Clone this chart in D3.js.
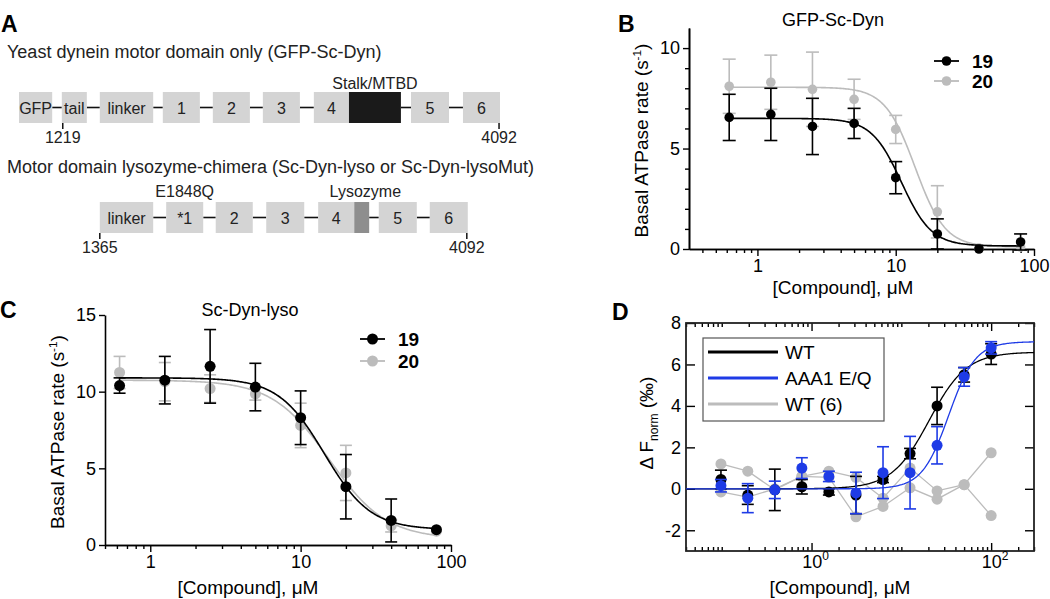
<!DOCTYPE html>
<html>
<head>
<meta charset="utf-8">
<script src="https://cdn.jsdelivr.net/npm/d3@7"></script>
<style>
  body { margin: 0; background: #fff; }
  svg { font-family: "Liberation Sans", Arial, Helvetica, sans-serif; }
</style>
</head>
<body>
<svg id="fig" width="1050" height="599"></svg>
<script>
// ---------- panel A: domain schematic (schematic units 0-100) ----------
const row1Labels = ["GFP", "tail", "linker", "1", "2", "3", "4", "", "5", "6"];
const row1Kinds = ["box", "box", "box", "box", "box", "box", "box", "stalk", "box", "box"];
const row1Start = [0, 8.9, 16.8, 29.9, 40.3, 50.7, 61.3, 68.6, 81.5, 92.3];
const row1End = [6.9, 14.1, 27.9, 37.6, 48.0, 58.4, 68.6, 79.4, 89.4, 100];
const row1Marks = [{ pos: 9.1, label: "1219" }, { pos: 99.8, label: "4092" }];

const row2Labels = ["linker", "*1", "2", "3", "4", "", "5", "6"];
const row2Kinds = ["box", "box", "box", "box", "box", "lyso", "box", "box"];
const row2Start = [16.8, 30.6, 40.9, 51.4, 62.2, 69.7, 74.8, 85.4];
const row2End = [27.9, 38.3, 48.6, 59.3, 69.7, 72.8, 82.7, 93.3];
const row2Marks = [{ pos: 16.8, label: "1365" }, { pos: 93.1, label: "4092" }];

// ---------- panels B, C: ATPase vs compound ----------
const doses = [0.625, 1.25, 2.5, 5, 10, 20, 40, 80];

const bRate19 = [6.55, 6.7, 6.1, 6.25, 3.55, 0.75, 0.0, 0.35];
const bErr19 = [1.15, 1.3, 1.4, 0.75, 0.8, 0.75, 0, 0.4];
const bRate20 = [8.1, 8.3, 7.95, 7.45, 5.95, 1.85, 0.05, 0.1];
const bErr20 = [1.35, 1.35, 1.85, 1.0, 0.7, 1.3, 0, 0];
// fit: [low-dose plateau, high-dose plateau, IC50, hill]
const bFit19 = [6.5, 0.15, 11, 4];
const bFit20 = [8.05, 0.1, 13.8, 4];

const cRate19 = [10.4, 10.75, 11.65, 10.3, 8.3, 3.8, 1.6, 1.0];
const cErr19 = [0.5, 1.55, 2.4, 1.55, 1.75, 2.1, 1.4, 0];
const cRate20 = [11.25, 10.65, 10.2, 9.85, 7.8, 4.7, 1.25, 0.9];
const cErr20 = [1.05, 1.25, 0.9, 0.4, 1.45, 1.8, 0.4, 0];
const cFit19 = [10.9, 1.0, 14.4, 2.83];
const cFit20 = [10.75, 0.4, 15.5, 2.3];

// ---------- panel D: MST ----------
const dDoses = [0.098, 0.195, 0.39, 0.78, 1.56, 3.125, 6.25, 12.5, 25, 50, 100];
const dWT = [0.45, -0.3, -0.05, 0.1, -0.15, -0.3, 0.45, 1.7, 4.0, 5.5, 6.5];
const dWTErr = [0.45, 0.45, 1.0, 0.35, 0.15, 0.9, 0.15, 0.25, 0.9, 0.35, 0.5];
const dEQ = [0.15, -0.45, -0.05, 1.0, 0.6, -0.2, 0.78, 0.78, 2.1, 5.4, 6.8];
const dEQErr = [0.3, 0.7, 0.42, 0.5, 0.25, 1.0, 1.25, 1.75, 0.9, 0.45, 0.3];
const dWT6a = [1.2, 0.85, -0.05, 0.6, 0.85, 0.55, -0.45, 1.0, -0.1, 0.2, 1.74];
const dWT6b = [-0.15, -0.4, 0.0, 0.6, 0.55, -1.35, -0.85, 0.05, -0.5, 0.2, -1.29];
const dFitWT = [0, 6.6, 20.4, 2.09];
const dFitEQ = [0, 7.1, 33.7, 2.92];
const dLegend = ["WT", "AAA1 E/Q", "WT (6)"];

const BLACK = "#000";
const GRAY = "#bcbcbc";
const BLUE = "#1e3be6";
const FONT = '"Liberation Sans", Arial, Helvetica, sans-serif';

const svg = d3.select("#fig");

function fitFn(p) {
  return (x) => p[1] + (p[0] - p[1]) / (1 + Math.pow(x / p[2], p[3]));
}

// sample the fitted dose-response curve across [lo, hi]
function fitCurve(p, lo, hi) {
  const f = fitFn(p);
  return d3.range(0, 301).map((i) => {
    const xv = Math.pow(10, Math.log10(lo) + (i / 300) * (Math.log10(hi) - Math.log10(lo)));
    return [xv, f(xv)];
  });
}

function styleAxis(sel, size) {
  sel.attr("font-family", FONT).attr("font-size", size);
  sel.selectAll(".domain").attr("stroke-width", 1.6);
  sel.selectAll(".tick line").attr("stroke-width", 1.4);
  return sel;
}

function panelLetter(t, x, y) {
  svg.append("text").attr("x", x).attr("y", y)
    .attr("font-size", 23).attr("font-weight", "bold").text(t);
}

// ================= Panel A =================
function drawRow(labels, kinds, starts, ends, marks, top) {
  const a = d3.scaleLinear().domain([0, 100]).range([19, 500]);
  const h = 31;
  const mid = top + h / 2;
  const g = svg.append("g");
  const segs = labels.map((l, i) => ({ label: l, kind: kinds[i], s: starts[i], e: ends[i] }));

  // connectors
  for (let i = 0; i < segs.length - 1; i++) {
    if (segs[i + 1].s - segs[i].e > 0.5) {
      g.append("line")
        .attr("x1", a(segs[i].e)).attr("x2", a(segs[i + 1].s))
        .attr("y1", mid).attr("y2", mid)
        .attr("stroke", "#111").attr("stroke-width", 1.6);
    }
  }
  const fill = { box: "#d4d4d4", stalk: "#1a1a1a", lyso: "#8e8e8e" };
  g.selectAll("rect").data(segs).join("rect")
    .attr("x", (d) => a(d.s)).attr("y", top)
    .attr("width", (d) => a(d.e) - a(d.s)).attr("height", h)
    .attr("fill", (d) => fill[d.kind]);
  g.selectAll("text.lab").data(segs.filter((d) => d.label)).join("text")
    .attr("class", "lab")
    .attr("x", (d) => (a(d.s) + a(d.e)) / 2).attr("y", mid + 6)
    .attr("text-anchor", "middle").attr("font-size", 16).attr("fill", "#222")
    .text((d) => d.label);
  marks.forEach((m) => {
    g.append("line").attr("x1", a(m.pos)).attr("x2", a(m.pos))
      .attr("y1", top + h).attr("y2", top + h + 6)
      .attr("stroke", "#111").attr("stroke-width", 1.5);
    g.append("text").attr("x", a(m.pos)).attr("y", top + h + 20)
      .attr("text-anchor", "middle").attr("font-size", 16).attr("fill", "#222")
      .text(m.label);
  });
  return a;
}

panelLetter("A", 1, 32);
svg.append("text").attr("x", 7).attr("y", 58).attr("font-size", 18).attr("fill", "#222")
  .text("Yeast dynein motor domain only (GFP-Sc-Dyn)");
const a1 = drawRow(row1Labels, row1Kinds, row1Start, row1End, row1Marks, 92);
svg.append("text").attr("x", (a1(68.6) + a1(79.4)) / 2).attr("y", 89)
  .attr("text-anchor", "middle").attr("font-size", 16).attr("fill", "#222").text("Stalk/MTBD");

svg.append("text").attr("x", 7).attr("y", 173).attr("font-size", 18).attr("fill", "#222")
  .text("Motor domain lysozyme-chimera (Sc-Dyn-lyso or Sc-Dyn-lysoMut)");
const a2 = drawRow(row2Labels, row2Kinds, row2Start, row2End, row2Marks, 202);
svg.append("text").attr("x", (a2(30.6) + a2(38.3)) / 2).attr("y", 197)
  .attr("text-anchor", "middle").attr("font-size", 16).attr("fill", "#222").text("E1848Q");
svg.append("text").attr("x", a2(72.0)).attr("y", 197)
  .attr("text-anchor", "middle").attr("font-size", 16).attr("fill", "#222").text("Lysozyme");

// ================= dose panels B, C =================
function drawPoints(g, x, y, xs, ys, es, color, r, cap) {
  const pts = xs.map((d, i) => ({ x: d, y: ys[i], e: es[i] }));
  const eb = g.append("g").attr("stroke", color).attr("stroke-width", 1.6).attr("fill", "none");
  pts.filter((p) => p.e > 0).forEach((p) => {
    const cx = x(p.x);
    eb.append("line").attr("x1", cx).attr("x2", cx).attr("y1", y(p.y + p.e)).attr("y2", y(p.y - p.e));
    [p.y + p.e, p.y - p.e].forEach((v) => {
      eb.append("line").attr("x1", cx - cap).attr("x2", cx + cap).attr("y1", y(v)).attr("y2", y(v));
    });
  });
  g.append("g").selectAll("circle").data(pts).join("circle")
    .attr("cx", (d) => x(d.x)).attr("cy", (d) => y(d.y)).attr("r", r).attr("fill", color);
}

function drawLine(g, x, y, pts, color, w) {
  g.append("path").datum(pts)
    .attr("d", d3.line().x((d) => x(d[0])).y((d) => y(d[1])))
    .attr("fill", "none").attr("stroke", color).attr("stroke-width", w);
}

function yLabel(cx, cy, size) {
  const t = svg.append("text").attr("transform", `translate(${cx},${cy}) rotate(-90)`)
    .attr("text-anchor", "middle").attr("font-size", size);
  t.append("tspan").text("Basal ATPase rate (s");
  t.append("tspan").attr("font-size", size * 0.62).attr("dy", -7).text("-1");
  t.append("tspan").attr("dy", 7).text(")");
}

function dosePanel(o) {
  const g = svg.append("g");
  const x = d3.scaleLog().domain(o.xDomain).range([o.left, o.right]);
  const y = d3.scaleLinear().domain(o.yDomain).range([o.bottom, o.top]);
  const all = x.ticks();
  const majors = all.filter((t) => Math.abs(Math.log10(t) - Math.round(Math.log10(t))) < 1e-9);
  const minors = all.filter((t) => !majors.includes(t));

  styleAxis(g.append("g").attr("transform", `translate(0,${o.bottom})`)
    .call(d3.axisBottom(x).tickValues(minors).tickSize(4).tickSizeOuter(0).tickFormat("")), 18);
  styleAxis(g.append("g").attr("transform", `translate(0,${o.bottom})`)
    .call(d3.axisBottom(x).tickValues(majors).tickSize(7).tickSizeOuter(0).tickPadding(3)
      .tickFormat(d3.format("~g"))), 18);

  if (o.yMinor.length) {
    styleAxis(g.append("g").attr("transform", `translate(${o.left},0)`)
      .call(d3.axisLeft(y).tickValues(o.yMinor).tickSize(4).tickSizeOuter(0).tickFormat("")), 18);
  }
  styleAxis(g.append("g").attr("transform", `translate(${o.left},0)`)
    .call(d3.axisLeft(y).tickValues(o.yMajor).tickSize(6).tickSizeOuter(0).tickPadding(3)
      .tickFormat(d3.format("d"))), 18);

  // series: gray (20) under black (19)
  const lo = doses[0], hi = doses[doses.length - 1];
  drawLine(g, x, y, fitCurve(o.fit20, lo, hi), GRAY, 1.6);
  drawPoints(g, x, y, doses, o.rate20, o.err20, GRAY, o.r, o.cap);
  drawLine(g, x, y, fitCurve(o.fit19, lo, hi), BLACK, 1.6);
  drawPoints(g, x, y, doses, o.rate19, o.err19, BLACK, o.r, o.cap);

  // title
  svg.append("text").attr("x", o.titleX).attr("y", o.titleY)
    .attr("text-anchor", "middle").attr("font-size", 18).text(o.title);

  // legend
  [["19", BLACK], ["20", GRAY]].forEach(([lab, col], i) => {
    const ly = o.legY + i * o.legGap;
    svg.append("line").attr("x1", o.legX).attr("x2", o.legX + 25).attr("y1", ly).attr("y2", ly)
      .attr("stroke", col).attr("stroke-width", 1.8);
    svg.append("circle").attr("cx", o.legX + 12.5).attr("cy", ly).attr("r", o.r).attr("fill", col);
    svg.append("text").attr("x", o.legX + 38).attr("y", ly + 7)
      .attr("font-size", 19).attr("font-weight", "bold").text(lab);
  });

  // axis titles
  svg.append("text").attr("x", o.xLabelX).attr("y", o.xLabelY)
    .attr("text-anchor", "middle").attr("font-size", 19).text("[Compound], μM");
  yLabel(o.yLabelX, (o.top + o.bottom) / 2 + 2, 19);
}

panelLetter("B", 618, 32);
dosePanel({
  xDomain: [0.32, 100], left: 689, right: 1034,
  yDomain: [0, 11], top: 28, bottom: 249,
  yMajor: [0, 5, 10], yMinor: [1, 2, 3, 4, 6, 7, 8, 9],
  rate19: bRate19, err19: bErr19, rate20: bRate20, err20: bErr20,
  fit19: bFit19, fit20: bFit20, r: 4.8, cap: 6.5,
  title: "GFP-Sc-Dyn", titleX: 833, titleY: 26,
  legX: 934, legY: 61, legGap: 20,
  xLabelX: 843, xLabelY: 294, yLabelX: 648,
});

panelLetter("C", 0, 318);
dosePanel({
  xDomain: [0.5, 100], left: 105, right: 451,
  yDomain: [0, 15], top: 315, bottom: 545,
  yMajor: [0, 5, 10, 15], yMinor: [],
  rate19: cRate19, err19: cErr19, rate20: cRate20, err20: cErr20,
  fit19: cFit19, fit20: cFit20, r: 5.5, cap: 6,
  title: "Sc-Dyn-lyso", titleX: 250, titleY: 316,
  legX: 360, legY: 339, legGap: 22,
  xLabelX: 248, xLabelY: 594, yLabelX: 64,
});

// ================= Panel D =================
panelLetter("D", 612, 320);
(function () {
  const L = 686, R = 1034, T = 323, B = 551;
  const g = svg.append("g");
  const x = d3.scaleLog().domain([0.04, 300]).range([L, R]);
  const y = d3.scaleLinear().domain([-3, 8]).range([B, T]);
  const all = x.ticks();
  const majors = [1, 100];
  const minors = all.filter((t) => !majors.includes(t));
  const yTicks = [-2, 0, 2, 4, 6, 8];

  [["bottom", B], ["top", T]].forEach(([side, pos]) => {
    const mk = side === "bottom" ? d3.axisBottom : d3.axisTop;
    styleAxis(g.append("g").attr("transform", `translate(0,${pos})`)
      .call(mk(x).tickValues(minors).tickSize(-4).tickSizeOuter(0).tickFormat("")), 17)
      .selectAll(".domain").remove();
    styleAxis(g.append("g").attr("transform", `translate(0,${pos})`)
      .call(mk(x).tickValues(majors).tickSize(-8).tickSizeOuter(0).tickFormat("")), 17)
      .selectAll(".domain").remove();
  });
  styleAxis(g.append("g").attr("transform", `translate(${L},0)`)
    .call(d3.axisLeft(y).tickValues(yTicks).tickSize(-9).tickSizeOuter(0).tickPadding(5)
      .tickFormat((d) => String(d))), 18).selectAll(".domain").remove();
  styleAxis(g.append("g").attr("transform", `translate(${R},0)`)
    .call(d3.axisRight(y).tickValues(yTicks).tickSize(-9).tickSizeOuter(0).tickFormat("")), 18)
    .selectAll(".domain").remove();

  g.append("rect").attr("x", L).attr("y", T).attr("width", R - L).attr("height", B - T)
    .attr("fill", "none").attr("stroke", "#222").attr("stroke-width", 1.8);

  // x tick labels 10^0, 10^2
  majors.forEach((m) => {
    const t = g.append("text").attr("x", x(m) + 4).attr("y", B + 17)
      .attr("text-anchor", "middle").attr("font-size", 18);
    t.append("tspan").text("10");
    t.append("tspan").attr("font-size", 12).attr("dy", -8).text(String(Math.round(Math.log10(m))));
  });

  // WT (6) replicates
  [dWT6a, dWT6b].forEach((s) => {
    const pts = dDoses.map((d, i) => [d, s[i]]);
    drawLine(g, x, y, pts, GRAY, 1.3);
    g.append("g").selectAll("circle").data(pts).join("circle")
      .attr("cx", (d) => x(d[0])).attr("cy", (d) => y(d[1])).attr("r", 5.5).attr("fill", GRAY);
  });

  drawPoints(g, x, y, dDoses, dWT, dWTErr, BLACK, 5.5, 6);
  drawLine(g, x, y, fitCurve(dFitWT, 0.04, 300), BLACK, 1.3);
  drawPoints(g, x, y, dDoses, dEQ, dEQErr, BLUE, 5.5, 6);
  drawLine(g, x, y, fitCurve(dFitEQ, 0.04, 300), BLUE, 1.3);

  // legend
  const lg = g.append("g");
  lg.append("rect").attr("x", 703).attr("y", 338).attr("width", 181).attr("height", 83)
    .attr("fill", "#fff").attr("stroke", "#555").attr("stroke-width", 1.2);
  [BLACK, BLUE, GRAY].forEach((c, i) => {
    const ly = 352 + i * 26;
    lg.append("line").attr("x1", 708).attr("x2", 778).attr("y1", ly).attr("y2", ly)
      .attr("stroke", c).attr("stroke-width", 3);
    lg.append("text").attr("x", 785).attr("y", ly + 7).attr("font-size", 19).text(dLegend[i]);
  });

  // axis titles
  svg.append("text").attr("x", 840).attr("y", 594).attr("text-anchor", "middle")
    .attr("font-size", 19).text("[Compound], μM");
  const yl = svg.append("text").attr("transform", "translate(653,423) rotate(-90)")
    .attr("text-anchor", "middle").attr("font-size", 19);
  yl.append("tspan").text("Δ F");
  yl.append("tspan").attr("font-size", 12).attr("dy", 5).text("norm");
  yl.append("tspan").attr("dy", -5).text(" (‰)");
})();
</script>
</body>
</html>
